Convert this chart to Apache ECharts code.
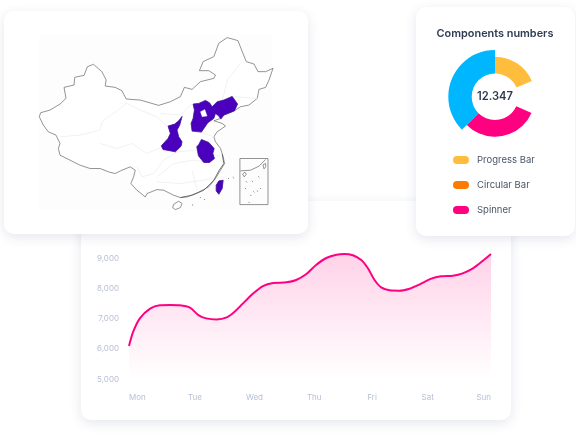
<!DOCTYPE html>
<html><head><meta charset="utf-8">
<script src="https://cdn.jsdelivr.net/npm/echarts@6/dist/echarts.min.js"></script>
<style>html,body{margin:0;padding:0;background:#fff}#c{width:576px;height:434px}</style>
</head><body><div id="c"></div>
<script>
// ---- line chart data
const dayLabels = ['Mon','Tue','Wed','Thu','Fri','Sat','Sun'];
const dayLabelPositions = [0,1.094,2.08,3.07,4.03,4.95,6];
const yTicks = [5000,6000,7000,8000,9000];
const curveDays = [0,0.07,0.18,0.35,0.51,0.68,0.84,1.01,1.15,1.28,1.45,1.62,1.75,1.89,2.06,2.22,2.39,2.61,2.77,2.94,3.10,3.27,3.44,3.57,3.71,3.85,3.96,4.07,4.18,4.32,4.48,4.65,4.81,5.01,5.17,5.37,5.53,5.70,5.86,6];
const curveValues = [6097,6573,7017,7338,7449,7460,7449,7371,7127,7017,6983,7050,7238,7515,7848,8091,8191,8213,8291,8490,8789,9022,9133,9155,9111,8955,8679,8291,8047,7947,7936,8003,8136,8335,8413,8435,8512,8679,8922,9155];
// ---- donut data
const sliceNames = ['Progress Bar','Circular Bar','Spinner','Other'];
const sliceValues = [67,47,111,135];
const centerValue = '12.347';
const donutTitle = 'Components numbers';
// ---- map shapes, in map units
const chinaOutline = [[118,350],[122,338],[150,330],[180,312],[198,295],[192,262],[222,255],[224,232],[252,226],[262,200],[280,193],[305,215],[318,240],[315,258],[345,262],[365,272],[378,297],[420,300],[475,316],[510,305],[540,290],[552,262],[575,268],[600,245],[640,235],[645,225],[625,212],[597,212],[608,185],[640,170],[655,130],[680,113],[712,122],[725,155],[737,185],[760,192],[772,215],[795,215],[817,205],[805,240],[795,262],[775,268],[770,295],[745,315],[720,320],[700,333],[670,345],[660,355],[640,362],[665,370],[675,378],[650,395],[640,410],[645,425],[660,445],[668,470],[672,490],[660,510],[645,535],[625,560],[590,578],[560,590],[540,592],[520,585],[490,570],[470,568],[440,580],[435,590],[410,570],[392,550],[400,530],[405,510],[390,500],[365,510],[345,520],[325,515],[300,505],[270,505],[240,495],[210,480],[180,465],[175,445],[180,430],[168,405],[145,395],[130,375],[118,350]];
const hainan = [[520,612],[535,603],[545,610],[540,622],[525,628],[517,622],[520,612]];
const taiwan = [[655,542],[668,540],[665,565],[655,582],[647,572],[647,555],[655,542]];
const shaanxi = [[545,349],[535,362],[523,372],[503,378],[510,400],[503,415],[483,437],[488,448],[525,455],[542,438],[545,425],[535,410],[530,390],[538,375],[545,349]];
const northBlock = [[578,312],[595,310],[615,301],[627,308],[635,320],[650,305],[670,300],[695,289],[711,312],[702,332],[670,345],[661,357],[655,348],[645,340],[640,355],[622,368],[603,396],[575,393],[572,370],[578,355],[582,330],[578,312]];
const northHole = [[600,335],[613,328],[620,348],[605,350],[600,335]];
const anhui = [[603,418],[625,427],[641,445],[637,460],[642,475],[627,487],[610,487],[594,467],[589,440],[595,433],[603,418]];
const insetBox = [[718,475],[802,475],[802,613],[718,613],[718,475]];
const insetCoast = [[720,512],[750,510],[775,498],[795,478]];
const insetIsland1 = [[726,522],[733,516],[737,522],[731,530],[726,522]];
const insetIsland2 = [[787,494],[795,490],[795,500],[790,506],[787,494]];
const darkCoast = [[540,592],[575,585],[610,570],[640,540],[655,512],[670,490],[665,462]];
const provinceLines = [
 [[180,410],[240,405],[300,390],[305,365],[340,340],[380,310],[420,330],[470,350],[500,378]],
 [[300,430],[350,445],[395,430],[440,460],[482,442]],
 [[410,500],[425,530],[460,520],[490,480],[530,455],[590,450]],
 [[470,530],[520,490],[580,480],[610,485]],
 [[470,545],[540,550],[640,535]],
 [[575,510],[590,570]],
 [[480,340],[540,345],[575,310]],
 [[665,305],[680,240],[720,190]],
 [[700,290],[770,295]],
 [[640,410],[600,395]],
 [[635,460],[660,470]]
];
const scatteredIslands = [[600,592],[612,598],[577,615],[684,535],[698,532],[738,545],[755,543],[775,530],[735,565],[780,565],[745,606],[750,585],[760,575],[770,572]];

const MAP_H = 720;
const flip = pts => pts.map(p => [p[0], MAP_H - p[1]]);
const poly = (name, ...rings) => ({type:'Feature',properties:{name},geometry:{type:'Polygon',coordinates:rings.map(flip)}});
const line = (name, pts) => ({type:'Feature',properties:{name},geometry:{type:'LineString',coordinates:flip(pts)}});
const dot = (p,i) => poly('isle'+i,[[p[0]-1,p[1]-1],[p[0]+1,p[1]-1],[p[0]+1,p[1]+1],[p[0]-1,p[1]+1],[p[0]-1,p[1]-1]]);
const features = [
  poly('china',chinaOutline),
  poly('hainan',hainan),
  poly('inset',insetBox),
  ...provinceLines.map((l,i)=>line('prov'+i,l)),
  line('coast',insetCoast),
  line('darkCoast',darkCoast),
  poly('iA',insetIsland1),poly('iB',insetIsland2),
  ...scatteredIslands.map(dot),
  poly('shaanxi',shaanxi),
  poly('north',northBlock),
  poly('northHole',northHole),
  poly('anhui',anhui),
  poly('taiwan',taiwan)
];
echarts.registerMap('cn',{type:'FeatureCollection',features});
const PURPLE='#4a00bd';
const regions = [
  ...['shaanxi','north','anhui','taiwan'].map(name=>({name,itemStyle:{areaColor:PURPLE,borderColor:'#3a1496',borderWidth:0.8}})),
  {name:'northHole',itemStyle:{areaColor:'#ffffff',borderColor:'#ffffff',borderWidth:0.3}},
  {name:'inset',itemStyle:{areaColor:'rgba(0,0,0,0)',borderColor:'#777',borderWidth:0.8}},
  ...provinceLines.map((l,i)=>({name:'prov'+i,itemStyle:{areaColor:'none',borderColor:'#eeeeee',borderWidth:0.8}})),
  {name:'coast',itemStyle:{areaColor:'none',borderColor:'#666',borderWidth:0.7}},
  {name:'darkCoast',itemStyle:{areaColor:'none',borderColor:'#555',borderWidth:0.8}}
];

const FONT='Inter';
const card = (x,y,w,h,r,blur) => ({type:'rect',z:0,shape:{x,y,width:w,height:h,r},style:{fill:'#fff',shadowBlur:blur,shadowColor:'rgba(70,80,130,0.14)',shadowOffsetY:3}});
const txt = (text,x,y,size,weight,color) => ({type:'text',z:5,x,y,style:{text,fill:color,fontFamily:FONT,fontSize:size,fontWeight:weight,textAlign:'center',textVerticalAlign:'middle'}});
const chart = echarts.init(document.getElementById('c'),null,{renderer:'canvas'});
const colors=['#ffbd3d','rgba(0,0,0,0)','#ff0080','rgba(0,0,0,0)'];
const colorsOuter=['rgba(0,0,0,0)','rgba(0,0,0,0)','rgba(0,0,0,0)','#00b7ff'];
const pieData = cs => sliceNames.map((n,i)=>({name:n,value:sliceValues[i],itemStyle:{color:cs[i]}}));
const pieBase = {type:'pie',center:[495,96.7],startAngle:90,silent:true,label:{show:false},labelLine:{show:false},emphasis:{disabled:true},animation:false};
chart.setOption({
  animation:false,
  textStyle:{fontFamily:FONT},
  graphic:[
    card(81,201,430,219,10,12),
    card(4,11,304,223,10,12),
    card(416,7,159,229,10,12),
    {type:'rect',z:0,shape:{x:39,y:35,width:233,height:175},style:{fill:'#fdfdfd'}},
    txt(donutTitle,495,34,10.9,600,'#2f3b52'),
    txt(centerValue,495,97,11.2,600,'#2f3b52')
  ],
  legend:{orient:'vertical',left:448,top:150,itemWidth:16,itemHeight:8,itemGap:15,
    icon:'path://M4 0H12A4 4 0 0 1 12 8H4A4 4 0 0 1 4 0Z',
    selectedMode:false,textStyle:{fontFamily:FONT,fontSize:9.5,color:'#4a5568',padding:[0,0,0,3]},
    data:[{name:'Progress Bar',itemStyle:{color:'#ffbd3d'}},{name:'Circular Bar',itemStyle:{color:'#ff7a00'}},{name:'Spinner',itemStyle:{color:'#ff0080'}}]},
  geo:{map:'cn',left:39.3,top:37.6,width:233.7,height:172,aspectScale:1,roam:false,silent:true,z:3,
    label:{show:false},
    itemStyle:{areaColor:'#ffffff',borderColor:'#666',borderWidth:0.7},
    regions},
  grid:{left:129,right:85,top:243.6,height:135.5,containLabel:false},
  xAxis:{type:'value',min:0,max:6,axisLine:{show:false},axisTick:{show:false},splitLine:{show:false},
    axisLabel:{customValues:dayLabelPositions,alignMinLabel:'left',alignMaxLabel:'right',margin:14,fontSize:8,color:'#b8c0d4',fontFamily:FONT,showMinLabel:true,showMaxLabel:true,
      formatter:v=>dayLabels[dayLabelPositions.indexOf(v)]}},
  yAxis:{type:'value',min:5000,max:9500,axisLine:{show:false},axisTick:{show:false},splitLine:{show:false},
    axisLabel:{customValues:yTicks,margin:10,fontSize:8,color:'#b8c0d4',fontFamily:FONT,formatter:v=>v.toLocaleString('en-US')}},
  series:[
    {type:'line',smooth:0.3,symbol:'none',silent:true,z:2,data:curveDays.map((d,i)=>[d,curveValues[i]]),
      lineStyle:{color:'#ff0080',width:2},
      areaStyle:{color:{type:'linear',x:0,y:0,x2:0,y2:1,colorStops:[{offset:0,color:'rgba(255,0,128,0.25)'},{offset:1,color:'rgba(255,0,128,0)'}]}}},
    Object.assign({},pieBase,{name:'inner',radius:[23.3,40],data:pieData(colors),z:3}),
    Object.assign({},pieBase,{name:'outer',radius:[23.3,46.7],data:pieData(colorsOuter),z:3})
  ]
});
</script></body></html>
